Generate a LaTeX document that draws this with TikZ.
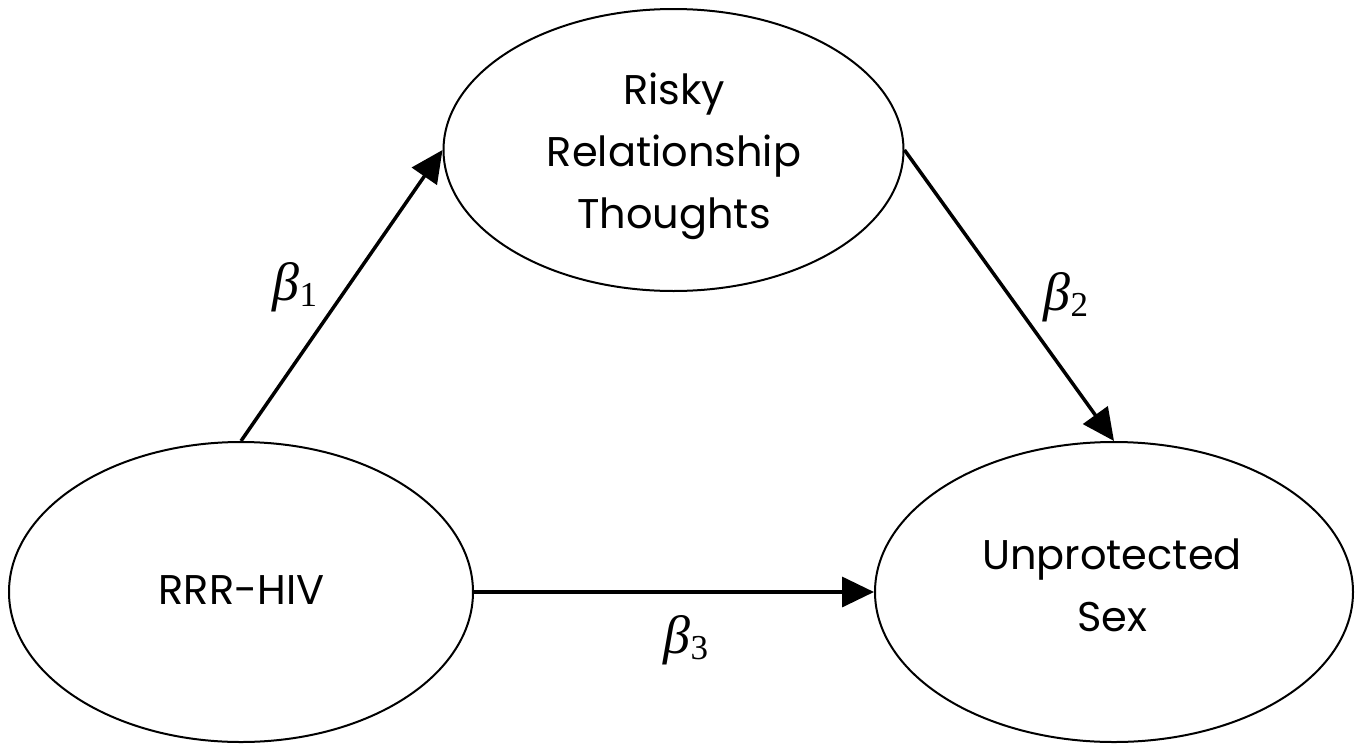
\documentclass[tikz,border=0pt]{standalone}
\usepackage{fontspec}
\setmainfont{Poppins}
\newfontfamily\tms{Liberation Serif}
\usetikzlibrary{shapes.geometric,arrows.meta}
\tikzset{
  oval/.style={draw=black, line width=2pt, ellipse, inner sep=0pt},
  lbl/.style={align=center, font=\fontsize{41.5}{62}\selectfont, inner sep=0pt},
  arr/.style={line width=3.5pt, -{Triangle[length=32pt,width=30pt]}, shorten >=0pt},
  coef/.style={inner sep=0pt, font=\tms\fontsize{54}{56}\selectfont}
}
\newcommand{\bsub}[1]{{\itshape β}\raisebox{-6pt}{\fontsize{35}{37}\selectfont #1}}
\begin{document}
\begin{tikzpicture}[x=1pt,y=-1pt]
\useasboundingbox (0,0) rectangle (1361,745);
\node[oval, minimum width=460pt, minimum height=282pt] (T) at (673.5,150) {};
\node[oval, minimum width=464pt, minimum height=300pt] (L) at (241,592) {};
\node[oval, minimum width=478pt, minimum height=300pt] (R) at (1114,592) {};
\node[lbl] (tT) at (674,156) {Risky\\Relationship\\Thoughts};
\node[lbl] (tL) at (241.5,590) {RRR-HIV};
\node[lbl] (tR) at (1112,585) {Unprotected\\Sex};
\draw[arr] (L.north) -- (T.west);
\draw[arr] (T.east) -- (R.north);
\draw[arr] (L.east) -- (R.west);
\node[coef] (b1) at (295,287) {\bsub{1}};
\node[coef] (b2) at (1066,297) {\bsub{2}};
\node[coef] (b3) at (686,640) {\bsub{3}};
\end{tikzpicture}
\end{document}
